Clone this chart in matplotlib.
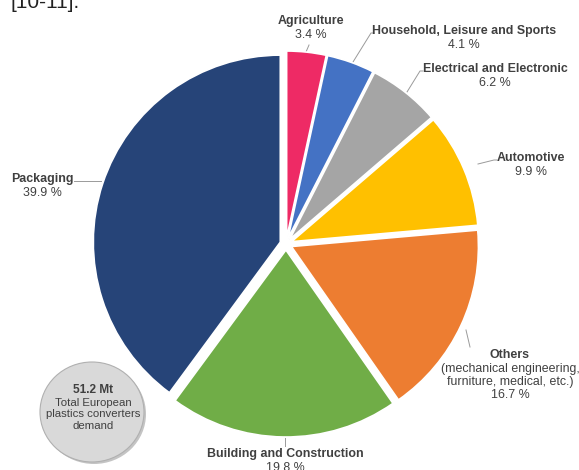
import matplotlib.pyplot as plt
from matplotlib.patches import Ellipse

plt.rcParams['font.family'] = ['Liberation Sans', 'DejaVu Sans']

# data, clockwise from 12 o'clock
sectors = ["Agriculture", "Household, Leisure and Sports", "Electrical and Electronic",
           "Automotive", "Others", "Building and Construction", "Packaging"]
shares = [3.4, 4.1, 6.2, 9.9, 16.7, 19.8, 39.9]
notes = ["", "", "", "", "(mechanical engineering,\nfurniture, medical, etc.)", "", ""]
total_mt = 51.2

colors = ["#EE2A65", "#4472C4", "#A5A5A5", "#FFC000", "#ED7D31", "#70AD47", "#264478"]

W, H = 579, 470
fig = plt.figure(figsize=(W / 100, H / 100), dpi=100)
ax = fig.add_axes([0, 0, 1, 1])
ax.set_xlim(0, W)
ax.set_ylim(0, H)
ax.set_aspect('equal')
ax.axis('off')

def Y(y):
    return H - y

cx, cy, r = 286, 244, 187
wedges, _ = ax.pie(shares, colors=colors, startangle=90, counterclock=False,
                   center=(cx, Y(cy)), radius=r, explode=[6] * len(shares),
                   wedgeprops=dict(edgecolor='white', linewidth=1.2))
for w in wedges:
    w.set_zorder(2)
ax.set_xlim(0, W)
ax.set_ylim(0, H)

txt = '#404040'
line_c = '#9A9A9A'
fs = 8.9

# label anchor (text center x, first line y) and leader line points
label_pos = [(311, 21), (464, 31), (495, 69), (531, 158), (510, 355), (285, 454), (42, 179)]
leaders = [
    [(306, 52), (309, 45)],
    [(353, 62), (371, 33), (374, 33)],
    [(407, 92), (420, 71), (423, 71)],
    [(478, 164), (494, 160), (497, 160)],
    [(466, 330), (470, 347)],
    [(285, 438), (285, 446)],
    [(74, 181), (101, 181)],
]

for name, val, note, (lx, ly), pts in zip(sectors, shares, notes, label_pos, leaders):
    ax.text(lx, Y(ly), name, ha='center', va='center', fontsize=fs,
            fontweight='bold', color=txt)
    rest = (note + "\n" if note else "") + f"{val} %"
    ax.text(lx, Y(ly + 8), rest, ha='center', va='top', fontsize=fs,
            color=txt, linespacing=1.12)
    xs = [p[0] for p in pts]
    ys = [Y(p[1]) for p in pts]
    ax.plot(xs, ys, color=line_c, lw=0.7, zorder=1)

# total demand bubble
ax.add_patch(Ellipse((94, Y(414)), 104, 100, facecolor='#C4C4C4', edgecolor='none', zorder=3))
ax.add_patch(Ellipse((92, Y(412)), 104, 100, facecolor='#D9D9D9', edgecolor='#B0B0B0',
                     lw=0.8, zorder=4))
ax.text(93, Y(390), f"{total_mt} Mt", ha='center', va='center', fontsize=8.6,
        fontweight='bold', color=txt, zorder=5)
ax.text(93, Y(398), "Total European\nplastics converters\ndemand", ha='center', va='top',
        fontsize=8.2, color=txt, linespacing=1.18, zorder=5)

# cropped text from the page above
ax.text(80, Y(8), "[10-11].", ha='right', va='baseline', fontsize=15, color='#222222')

fig.savefig("out.png", dpi=100)
